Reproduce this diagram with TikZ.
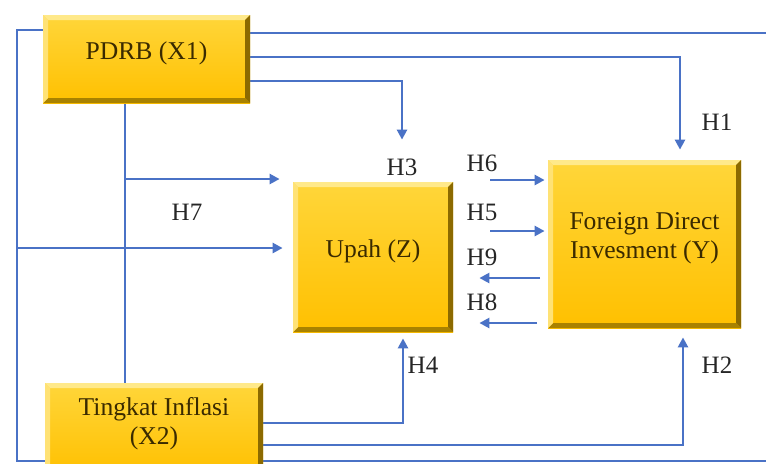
\documentclass[tikz,border=0pt]{standalone}
\usepackage{fontspec}
\setmainfont{Liberation Serif}
\usetikzlibrary{arrows.meta,calc}
\pgfdeclarelayer{background}
\pgfsetlayers{background,main}
\definecolor{goldtop}{HTML}{FFD63A}
\definecolor{goldbot}{HTML}{FFC000}
\definecolor{bevlight}{HTML}{FFE98A}
\definecolor{bevdark}{HTML}{8C6A00}
\definecolor{bevbot}{HTML}{A98200}
\definecolor{txtbrown}{HTML}{3A2A00}
\definecolor{linkblue}{HTML}{4A72C6}
\tikzset{
  gbox/.style={rectangle, inner sep=0pt, align=center, text=txtbrown,
    font=\fontsize{12.8}{14.5}\selectfont, text depth=8pt,
    top color=goldtop, bottom color=goldbot,
    path picture={
      \fill[bevlight] (path picture bounding box.north west) -- (path picture bounding box.north east)
        -- ([xshift=-2.5pt,yshift=-2.5pt]path picture bounding box.north east)
        -- ([xshift=2.5pt,yshift=-2.5pt]path picture bounding box.north west) -- cycle;
      \fill[bevdark] (path picture bounding box.north east) -- (path picture bounding box.south east)
        -- ([xshift=-2.5pt,yshift=2.5pt]path picture bounding box.south east)
        -- ([xshift=-2.5pt,yshift=-2.5pt]path picture bounding box.north east) -- cycle;
      \fill[bevbot] (path picture bounding box.south west) -- (path picture bounding box.south east)
        -- ([xshift=-2.5pt,yshift=2.5pt]path picture bounding box.south east)
        -- ([xshift=2.5pt,yshift=2.5pt]path picture bounding box.south west) -- cycle;
      \fill[goldtop!70!white] (path picture bounding box.north west) -- (path picture bounding box.south west)
        -- ([xshift=2.5pt,yshift=2.5pt]path picture bounding box.south west)
        -- ([xshift=2.5pt,yshift=-2.5pt]path picture bounding box.north west) -- cycle;
    }},
  link/.style={draw=linkblue, line width=1.25pt},
  arr/.style={link, -{Triangle[length=5pt,width=5pt]}},
  hlab/.style={text=black!85, font=\fontsize{12.5}{14}\selectfont, inner sep=0pt}
}
\begin{document}
\begin{tikzpicture}[x=0.5pt,y=-0.5pt]
\useasboundingbox (0,0) rectangle (766,463);
\clip (0,0) rectangle (766,463);

% boxes
\node[gbox, minimum width=103.5pt, minimum height=44pt] (pdrb) at (146.5,59) {PDRB (X1)};
\node[gbox, minimum width=80pt, minimum height=75pt] (upah) at (373,257) {Upah (Z)};
\node[gbox, minimum width=96.5pt, minimum height=84pt] (fdi) at (644.5,244) {Foreign Direct\\Invesment (Y)};
\node[gbox, minimum width=109pt, minimum height=46pt] (infl) at (154,429) {Tingkat Inflasi\\(X2)};

% free ends
\coordinate (lc) at (17,248);
\coordinate (br) at (125,179);
\coordinate (h6s) at (490,180);
\coordinate (h5s) at (490,231);
\coordinate (h9s) at (540,278);
\coordinate (h8s) at (537,323);

\begin{pgfonlayer}{background}
\fill[white] (0,0) rectangle (766,463);
% outer loop
\draw[link] (pdrb.west |- 0,30) -- (17,30) -- (17,461) -- (800,461) -- (800,33) -- (pdrb.east |- 0,33);
% PDRB -> FDI (H1)
\draw[arr, shorten >=5pt] (pdrb.east |- 0,57) -| (fdi.north -| 680,0);
% PDRB -> Upah (H3)
\draw[arr, shorten >=21pt] (pdrb.east |- 0,81) -| (upah.north -| 402,0);
% PDRB -> Inflasi vertical
\draw[link] (pdrb.south -| 125,0) -- (infl.north -| 125,0);
% branch -> Upah
\draw[arr, shorten >=6.5pt] (br) -- (upah.west |- br);
% left line -> Upah
\draw[arr, shorten >=5pt] (lc) -- (upah.west |- lc);
% Inflasi -> Upah (H4)
\draw[arr, shorten >=3pt] (infl.east |- 0,423) -| (upah.south -| 403,0);
% Inflasi -> FDI (H2)
\draw[arr, shorten >=4.5pt] (infl.east |- 0,445) -| (fdi.south -| 683,0);
% middle arrows
\draw[arr, shorten >=1.5pt] (h6s) -- (fdi.west |- h6s);
\draw[arr, shorten >=1.5pt] (h5s) -- (fdi.west |- h5s);
\draw[arr, shorten >=13pt] (h9s) -- (upah.east |- h9s);
\draw[arr, shorten >=13pt] (h8s) -- (upah.east |- h8s);
\end{pgfonlayer}

% labels
\node[hlab] (l1) at (717,122) {H1};
\node[hlab] (l2) at (717,365) {H2};
\node[hlab] (l3) at (402,167) {H3};
\node[hlab] (l4) at (423,365) {H4};
\node[hlab] (l5) at (482,212) {H5};
\node[hlab] (l6) at (482,163) {H6};
\node[hlab] (l7) at (187,212) {H7};
\node[hlab] (l8) at (482,302) {H8};
\node[hlab] (l9) at (482,257) {H9};
\end{tikzpicture}
\end{document}
